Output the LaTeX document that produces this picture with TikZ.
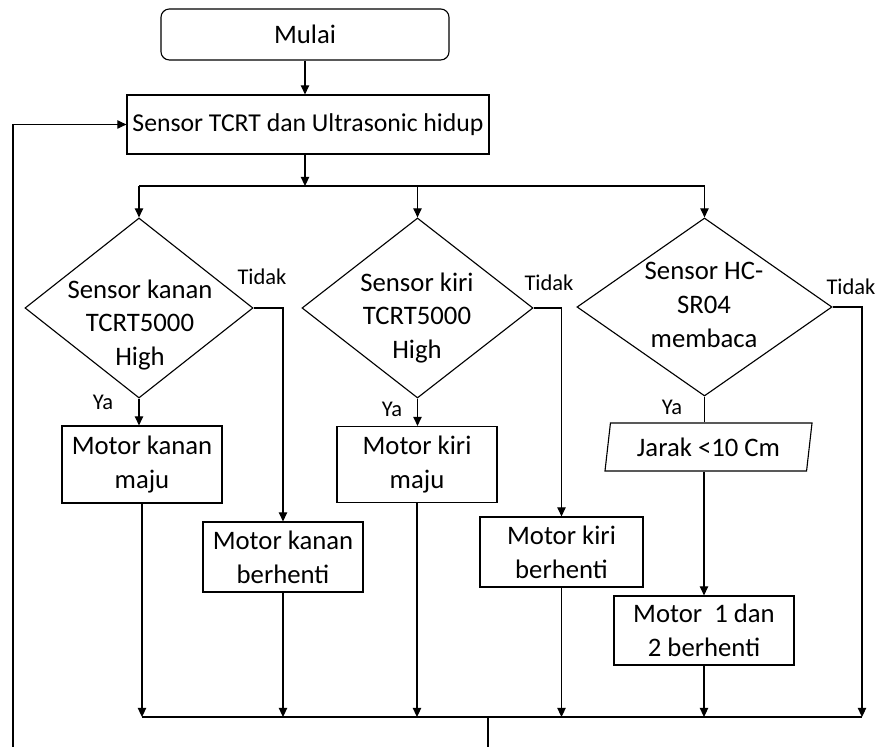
\documentclass[tikz,border=0pt]{standalone}
\usepackage{fontspec}
\setmainfont{Carlito}
\usetikzlibrary{shapes.geometric, arrows.meta, positioning, calc}

\begin{document}
\begin{tikzpicture}[
        x=0.025cm, y=-0.025cm,
        line width=0.8pt,
        txt/.style={font=\fontsize{19}{24}\selectfont, align=center, inner sep=0pt},
        term/.style={rectangle, rounded corners=6pt, draw=black, minimum width=7.2cm, minimum height=1.275cm, txt},
        proc/.style={rectangle, draw=black, txt},
        dec/.style={diamond, draw=black, inner sep=0pt},
        io/.style={trapezium, trapezium left angle=78, trapezium right angle=102, trapezium stretches=true, draw=black, txt},
        flow/.style={-{Triangle[length=6.5pt, width=6pt]}, draw=black},
        conn/.style={draw=black},
        lbl/.style={font=\fontsize{16}{18}\selectfont, inner sep=0pt}
    ]
        \useasboundingbox (0,0) rectangle (880,747);
        \node[term] (mulai) at (305,34.5) {Mulai};
        \node[proc, minimum width=9.05cm, minimum height=1.475cm, font=\fontsize{18.3}{24}\selectfont] (sensor) at (308,124.5) {Sensor TCRT dan Ultrasonic hidup};
        \node[dec, minimum width=5.7cm, minimum height=4.5cm] (kanan) at (139,308) {};
        \node[dec, minimum width=5.775cm, minimum height=4.5cm] (kiri) at (417.5,308) {};
        \node[dec, minimum width=6.375cm, minimum height=4.45cm] (hcsr) at (704.5,307) {};
        \node[txt] (kanantxt) at (140,325) {Sensor kanan\\TCRT5000\\High};
        \node[txt] (kiritxt) at (417,318) {Sensor kiri\\TCRT5000\\High};
        \node[txt] (hcsrtxt) at (704,305) {Sensor HC-\\SR04\\membaca};
        \node[proc, minimum width=4cm, minimum height=1.925cm] (kananmaju) at (142,464.5) {Motor kanan\\maju};
        \node[proc, minimum width=4cm, minimum height=1.9cm] (kirimaju) at (417,464.5) {Motor kiri\\maju};
        \node[proc, minimum width=4cm, minimum height=1.75cm] (kananstop) at (283,557) {Motor kanan\\berhenti};
        \node[proc, minimum width=4.075cm, minimum height=1.75cm] (kiristop) at (561.5,552) {Motor kiri\\berhenti};
        \node[io, minimum width=5.175cm, minimum height=1.2cm] (jarak) at (708.5,447) {Jarak <10 Cm};
        \node[proc, minimum width=4.5cm, minimum height=1.725cm] (stop) at (704,630.5) {Motor\ \ 1 dan\\2 berhenti};
        \node[lbl] (tidak1) at (262,277) {Tidak};
        \node[lbl] (tidak2) at (549,283) {Tidak};
        \node[lbl] (tidak3) at (851,287) {Tidak};
        \node[lbl] (ya1) at (103,402) {Ya};
        \node[lbl] (ya2) at (392,409) {Ya};
        \node[lbl] (ya3) at (672,407) {Ya};
        \coordinate (split) at (305,186);
        \coordinate (merge) at (488,717);
        \coordinate (out) at (488,747);
        \coordinate (back) at (13,747);
        \coordinate (tidakend) at (862,717);
        \draw[flow] (mulai.south) -- (mulai.south |- sensor.north);
        \draw[flow] (mulai.south |- sensor.south) -- (split);
        \draw[conn] (kanan.north |- split) -- (hcsr.north |- split);
        \draw[flow] (kanan.north |- split) -- (kanan.north);
        \draw[flow] (kiri.north |- split) -- (kiri.north);
        \draw[flow] (hcsr.north |- split) -- (hcsr.north);
        \draw[flow] (kanan.south) -- (kanan.south |- kananmaju.north);
        \draw[flow] (kanan.east) -| (kananstop.north);
        \draw[flow] (kiri.south) -- (kiri.south |- kirimaju.north);
        \draw[flow] (kiri.east) -| (kiristop.north);
        \draw[conn] (hcsr.south) -- (hcsr.south |- jarak.north);
        \draw[flow] (stop.north |- jarak.south) -- (stop.north);
        \draw[flow] (hcsr.east) -| (tidakend);
        \draw[flow] (kananmaju.south) -- (kananmaju.south |- merge);
        \draw[flow] (kananstop.south) -- (kananstop.south |- merge);
        \draw[flow] (kirimaju.south) -- (kirimaju.south |- merge);
        \draw[flow] (kiristop.south) -- (kiristop.south |- merge);
        \draw[flow] (stop.south) -- (stop.south |- merge);
        \draw[conn] (kananmaju.south |- merge) -- (tidakend);
        \draw[conn] (merge) -- (out);
        \draw[flow] (back) |- (sensor.west);
    \end{tikzpicture}
\end{document}
